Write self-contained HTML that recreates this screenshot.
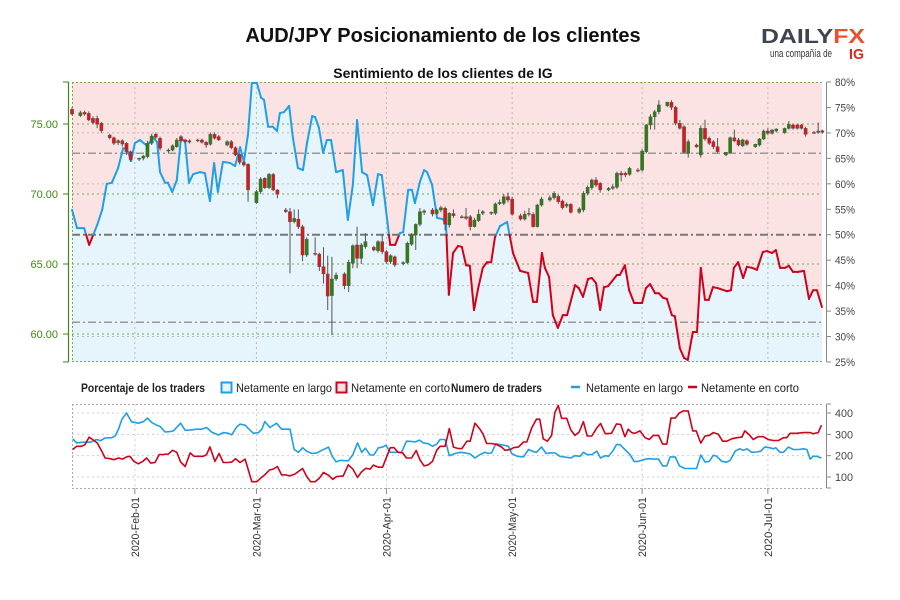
<!DOCTYPE html>
<html><head><meta charset="utf-8"><style>
body{margin:0;background:#fff;}
svg{display:block;font-family:"Liberation Sans",sans-serif;}
</style></head><body>
<svg id="chart" width="900" height="600" viewBox="0 0 900 600" xmlns="http://www.w3.org/2000/svg">
<rect width="900" height="600" fill="#fff"/>
<text x="443" y="42" text-anchor="middle" font-size="20" font-weight="bold" fill="#111">AUD/JPY Posicionamiento de los clientes</text>
<g>
<text x="761" y="43" font-size="20" font-weight="bold" fill="#3d4553" textLength="104" lengthAdjust="spacingAndGlyphs">DA<tspan fill="#3d4553">I</tspan>LY<tspan fill="#e8512a">FX</tspan></text>
<text x="770" y="57" font-size="11" fill="#333" textLength="62" lengthAdjust="spacingAndGlyphs">una compañía de</text>
<text x="849" y="59" font-size="15" font-weight="bold" fill="#e1261c" textLength="15" lengthAdjust="spacingAndGlyphs">IG</text>
</g>
<text x="443" y="78" text-anchor="middle" font-size="14" font-weight="bold" fill="#111">Sentimiento de los clientes de IG</text>
<g id="main"></g>
<g id="legend">
<text x="81" y="392" font-size="12" font-weight="bold" fill="#222" textLength="124" lengthAdjust="spacingAndGlyphs">Porcentaje de los traders</text>
<rect x="221.5" y="382.5" width="10" height="10" fill="#e6f4fc" stroke="#1ea0e6" stroke-width="2"/>
<text x="236" y="392" font-size="12" fill="#222" textLength="96" lengthAdjust="spacingAndGlyphs">Netamente en largo</text>
<rect x="336.5" y="382.5" width="10" height="10" fill="#fbe3e4" stroke="#d0021b" stroke-width="2"/>
<text x="351" y="392" font-size="12" fill="#222" textLength="99" lengthAdjust="spacingAndGlyphs">Netamente en corto</text>
<text x="451" y="392" font-size="12" font-weight="bold" fill="#222" textLength="91" lengthAdjust="spacingAndGlyphs">Numero de traders</text>
<line x1="571" y1="387" x2="580" y2="387" stroke="#1ea0e6" stroke-width="2.5"/>
<text x="586" y="392" font-size="12" fill="#222" textLength="97" lengthAdjust="spacingAndGlyphs">Netamente en largo</text>
<line x1="688" y1="387" x2="697" y2="387" stroke="#d0021b" stroke-width="2.5"/>
<text x="701" y="392" font-size="12" fill="#222" textLength="98" lengthAdjust="spacingAndGlyphs">Netamente en corto</text>
</g>
<g id="lower"></g>
</svg>
<script>
// ---------- data ----------
const startDate = "2020-01-17";
const monthTickDays = [15, 44, 75, 105, 136, 166];
const monthTickLabels = ["2020-Feb-01","2020-Mar-01","2020-Apr-01","2020-May-01","2020-Jun-01","2020-Jul-01"];
const priceTicks = [75, 70, 65, 60];
const priceTickLabels = ["75.00","70.00","65.00","60.00"];
const pctTicks = [80,75,70,65,60,55,50,45,40,35,30,25];
const pctGrid = [70,60,40,30];
const refLevels = [66, 50, 32.8];
const countTicks = [400,300,200,100];
// candles: [day, open, high, low, close]
const candles = [
[0,76.05,76.2,75.6,75.71],[2,75.60,75.95,75.5,75.81],[3,75.83,75.95,75.6,75.71],[4,75.76,75.9,75.2,75.29],
[5,75.40,75.55,75.0,75.10],[6,75.40,75.6,74.7,74.98],[7,75.05,75.15,74.35,74.52],[9,74.21,74.3,73.9,74.02],
[10,74.02,74.1,73.5,73.62],[11,73.67,73.9,73.5,73.81],[12,73.81,73.9,73.4,73.57],[13,73.62,73.7,72.8,73.02],
[14,73.02,73.1,72.3,72.43],[16,72.48,72.6,72.35,72.55],[17,72.55,72.8,72.4,72.71],[18,72.67,73.8,72.55,73.62],
[19,73.62,74.3,73.5,74.14],[20,74.26,74.4,73.95,74.05],[21,73.98,74.1,73.1,73.26],[23,73.07,73.25,72.95,73.14],
[24,73.14,73.55,73.05,73.45],[25,73.38,74.0,73.3,73.86],[26,74.10,74.2,73.7,73.79],[27,73.86,73.95,73.6,73.74],
[28,73.81,73.9,73.6,73.71],[30,73.79,73.95,73.7,73.86],[31,73.86,73.95,73.6,73.69],[32,73.69,73.8,73.3,73.50],
[33,73.55,74.4,73.45,74.26],[34,74.26,74.4,73.9,73.98],[35,74.10,74.2,73.8,73.86],[37,73.50,73.85,73.4,73.74],
[38,73.74,73.85,73.2,73.31],[39,73.31,73.4,72.7,72.79],[40,72.83,72.9,72.1,72.26],[41,72.26,72.35,71.95,72.07],
[42,72.12,72.2,69.45,70.29],[44,69.38,70.3,69.3,70.17],[45,70.17,71.2,70.0,71.07],[46,71.12,71.2,70.35,70.45],
[47,70.45,71.5,70.35,71.40],[48,71.40,71.5,70.2,70.29],[49,70.29,70.35,69.7,69.98],[51,68.86,69.0,68.65,68.74],
[52,68.74,69.0,64.33,68.02],[53,68.02,68.9,67.9,68.26],[54,68.21,68.9,67.5,67.67],[55,67.67,67.8,65.2,65.64],
[56,65.64,66.9,65.5,66.76],[58,65.76,66.9,65.6,65.71],[59,65.71,65.8,64.5,64.81],[60,64.81,66.2,63.6,64.29],
[61,64.29,65.6,61.71,62.71],[62,62.74,65.52,59.93,63.93],[63,63.93,64.4,63.8,64.21],[65,64.29,64.4,63.2,63.45],
[66,63.45,65.3,63.0,65.12],[67,65.05,66.4,64.7,66.31],[68,66.36,67.67,64.7,65.40],[69,65.40,66.5,65.0,66.36],
[70,66.24,67.2,66.1,66.60],[72,66.19,66.3,65.9,66.00],[73,65.95,66.7,65.8,66.60],[74,66.60,67.1,65.7,65.88],
[75,65.88,66.0,65.0,65.17],[76,65.17,65.7,65.0,65.60],[77,65.52,65.6,64.8,64.93],[79,65.02,65.2,64.9,65.10],
[80,65.10,66.6,65.0,66.48],[81,66.40,67.2,66.3,67.07],[82,67.07,67.9,66.0,67.83],[83,67.83,69.0,67.7,68.74],
[84,68.69,68.9,68.5,68.79],[86,68.86,69.0,68.4,68.57],[87,68.60,68.95,68.5,68.86],[88,68.86,69.15,68.7,69.02],
[89,68.98,69.1,67.4,67.83],[90,67.79,68.7,67.6,68.62],[91,68.60,68.9,68.3,68.45],[93,68.38,68.5,68.25,68.33],
[94,68.38,69.0,68.15,68.26],[95,68.38,68.5,67.4,67.67],[96,67.67,68.3,67.6,68.14],[97,68.10,68.9,68.0,68.55],
[98,68.62,68.85,68.5,68.74],[100,68.62,68.75,68.5,68.69],[101,68.62,69.4,68.5,69.29],[102,69.31,69.6,69.2,69.40],
[103,69.33,70.0,69.2,69.81],[104,69.81,70.1,69.4,69.57],[105,69.64,69.8,68.45,68.55],[107,68.45,68.6,68.1,68.21],
[108,68.21,68.8,68.1,68.55],[109,68.55,69.0,68.4,68.62],[110,68.55,68.7,67.6,67.67],[111,67.67,69.3,67.6,69.21],
[112,69.21,69.8,69.1,69.64],[114,69.57,69.9,69.45,69.74],[115,69.74,70.2,69.6,70.05],[116,69.83,69.95,69.3,69.45],
[117,69.50,69.6,68.9,69.02],[118,69.14,69.4,69.0,69.26],[119,69.26,69.35,68.6,68.69],[121,68.69,69.05,68.6,68.93],
[122,68.86,70.2,68.7,70.05],[123,70.05,70.6,69.9,70.48],[124,70.45,71.1,70.3,71.00],[125,71.00,71.2,70.5,70.64],
[126,70.76,70.85,70.1,70.29],[128,70.29,70.5,70.2,70.40],[129,70.40,70.7,70.3,70.52],[130,70.48,71.6,70.35,71.48],
[131,71.48,71.65,70.9,71.36],[132,71.48,71.6,71.2,71.36],[133,71.40,71.95,71.3,71.83],[135,71.71,71.85,71.55,71.64],
[136,71.71,73.2,71.6,73.07],[137,73.02,75.0,72.9,74.93],[138,74.93,75.7,74.6,75.52],[139,75.52,76.0,74.6,75.88],
[140,75.88,76.7,75.7,76.36],[142,76.31,76.6,76.2,76.55],[143,76.55,76.7,76.0,76.19],[144,76.19,76.3,74.9,75.05],
[145,75.05,75.3,74.6,74.69],[146,74.81,74.9,72.9,72.98],[147,72.90,73.9,72.6,73.74],[149,73.50,73.6,73.3,73.36],
[150,72.79,74.9,72.6,74.69],[151,74.69,75.3,73.8,73.93],[152,73.98,74.1,73.5,73.62],[153,73.74,73.85,73.2,73.38],
[154,73.38,74.0,72.95,73.02],[156,72.79,73.0,72.7,72.98],[157,72.95,74.1,72.9,74.02],[158,74.02,74.6,73.7,73.79],
[159,73.86,74.0,73.4,73.50],[160,73.45,73.95,73.35,73.86],[161,73.81,73.9,73.45,73.55],[163,73.38,73.6,73.3,73.55],
[164,73.50,74.0,73.4,73.93],[165,73.93,74.6,73.85,74.50],[166,74.50,74.7,74.2,74.33],[167,74.33,74.65,74.25,74.57],
[168,74.50,74.7,74.4,74.64],[170,74.38,74.75,74.3,74.69],[171,74.69,75.2,74.6,74.98],[172,74.93,75.0,74.6,74.69],
[173,74.93,75.0,74.6,74.69],[174,74.93,75.0,74.6,74.69],[175,74.69,74.8,74.1,74.26],[177,74.40,74.5,74.3,74.33],
[178,74.50,75.1,74.3,74.40],[179,74.52,74.6,74.3,74.40]
];
// sentiment (% net long)
const sentDays = [0,1.2,2.9,4.1,6.0,7.2,8.3,9.5,11.0,12.2,13.1,14.1,15.0,16.2,17.7,18.4,19.3,20.3,21.0,22.2,22.9,23.9,25.0,26.0,27.0,27.9,28.9,30.5,31.7,32.9,33.9,34.8,36.0,37.7,38.9,40.1,41.0,42.0,42.9,44.1,45.1,45.8,46.8,47.9,48.9,49.6,50.6,51.8,52.7,53.9,55.1,56.1,57.3,58.0,58.9,59.9,60.8,61.8,63.0,64.6,65.8,67.0,68.0,69.2,70.4,71.8,73.0,73.9,75.9,77.1,78.2,79.0,80.2,81.1,81.8,83.0,84.0,84.7,85.9,87.1,88.3,89.2,89.9,90.9,92.1,93.0,94.0,94.9,95.9,96.9,98.0,99.0,100.0,100.9,102.1,103.8,105.2,106.9,108.8,110.0,110.9,112.1,112.8,113.8,114.7,115.9,117.1,118.1,120.0,120.9,121.9,123.1,124.0,125.0,126.0,126.9,127.9,130.0,130.7,131.9,132.9,134.1,136.0,136.9,137.9,139.1,140.0,141.0,141.9,143.1,143.8,145.0,146.0,146.9,148.1,149.1,150.0,151.0,151.9,152.9,154.1,156.2,157.2,157.9,158.9,160.1,161.0,162.2,163.4,164.8,165.8,167.0,167.9,168.9,170.1,171.0,172.0,173.2,174.6,175.8,176.8,177.7,178.9];
const sentPct = [54.9,51.3,51.3,48.0,51.9,54.9,60.0,60.2,63.1,67.0,66.8,64.5,68.0,68.6,67.6,68.0,69.2,68.2,62.3,60.2,60.2,58.4,60.7,69.0,68.2,60.2,61.9,62.3,62.1,56.6,64.1,58.4,64.3,64.1,63.5,67.2,64.3,69.8,79.8,79.8,76.9,76.5,71.2,71.2,70.4,73.9,74.1,75.3,69.0,63.1,62.7,68.2,73.3,73.1,71.0,66.1,68.6,68.6,62.3,62.7,52.9,59.8,72.5,62.3,61.7,55.8,61.9,61.7,48.0,48.0,50.3,50.5,58.8,58.8,56.2,60.4,62.7,62.3,59.8,53.3,53.1,52.5,38.2,46.4,47.8,47.6,44.0,43.9,35.2,39.5,43.5,44.6,44.6,49.5,51.7,52.5,46.4,42.9,42.5,36.8,36.8,46.4,43.5,41.7,34.2,31.7,34.2,34.2,40.1,39.5,37.8,41.3,41.5,40.5,35.2,39.7,39.9,42.1,42.1,44.0,39.1,36.6,36.6,39.5,40.3,38.5,38.5,37.6,37.4,34.2,34.0,27.7,25.8,25.4,30.9,30.9,43.5,37.2,37.2,39.7,39.5,38.9,39.1,43.5,44.6,41.5,43.7,43.5,43.1,46.6,46.8,46.4,47.0,43.5,43.5,43.9,42.7,42.7,42.9,37.4,39.1,39.1,35.8];
// trader counts
const longDays = [0.2,1.1,2.7,4.3,5.9,6.8,7.9,9.5,10.3,11.1,11.9,13.0,14.2,15.8,17.0,18.0,19.0,20.2,21.0,22.2,23.4,24.2,25.9,27.0,28.5,29.7,30.9,32.1,33.3,34.9,36.1,37.3,38.1,39.3,40.1,41.3,42.5,43.3,44.5,45.3,46.0,47.2,48.8,50.0,52.0,53.0,54.0,55.0,56.0,57.2,58.4,59.6,61.2,62.0,63.0,64.0,65.9,67.0,68.1,69.1,70.0,71.1,72.0,73.1,74.1,74.9,75.9,77.5,78.6,79.8,81.0,81.8,82.9,83.8,85.0,86.0,87.0,87.8,89.0,90.0,91.4,92.6,93.8,95.0,96.1,97.3,98.5,99.3,100.1,101.1,102.1,103.3,104.1,104.9,106.2,107.7,108.9,110.1,110.8,112.0,113.1,114.0,115.2,116.4,117.4,119.0,120.0,121.2,122.0,122.9,124.0,125.2,126.1,127.2,128.0,129.1,129.9,130.7,131.9,133.1,134.1,135.1,136.3,137.5,138.7,139.9,140.9,141.9,142.7,143.9,144.9,146.2,147.8,149.0,150.0,151.0,152.0,153.0,153.8,155.0,156.2,157.0,158.2,159.2,160.2,161.0,162.1,163.3,164.3,165.3,166.5,167.3,167.9,168.9,169.7,170.9,172.1,173.3,174.5,175.3,176.1,176.8,177.6,178.8];
const longCount = [279,260,263,263,276,270,283,284,292,324,371,400,359,352,359,376,356,343,337,311,313,316,352,319,321,324,324,332,311,297,308,305,298,335,348,343,319,305,308,324,360,332,352,324,324,229,216,237,221,210,213,225,240,200,171,178,176,205,260,216,235,203,203,237,240,249,216,216,216,268,267,264,273,260,256,244,254,276,276,200,210,216,213,208,189,205,216,210,213,256,252,248,244,210,197,194,229,219,216,241,210,213,213,197,194,189,200,197,216,205,205,221,189,200,197,225,252,252,229,205,173,173,181,186,184,184,152,152,194,194,152,140,140,140,203,171,173,202,197,173,170,178,221,232,225,232,216,217,221,241,237,232,237,216,216,240,229,229,232,229,184,197,197,189];
const shortDays = [0.2,1.1,2.3,3.1,4.1,5.1,6.0,7.1,7.9,9.1,10.0,11.1,12.1,13.0,13.8,14.8,15.8,16.9,17.8,18.8,19.8,20.8,21.8,23.0,24.0,25.0,25.9,27.0,28.2,29.1,30.5,31.3,32.1,32.9,34.1,35.1,36.1,37.1,38.1,39.0,40.1,41.3,42.9,44.1,45.2,46.0,47.1,48.0,49.0,50.0,51.0,52.0,53.2,55.0,56.0,56.9,58.0,59.0,60.0,61.2,62.2,63.1,64.7,65.9,67.0,68.1,69.1,70.1,71.1,71.9,73.1,74.1,75.9,76.8,77.8,78.9,79.8,81.0,82.1,83.0,84.0,85.0,86.0,87.0,87.8,89.0,90.0,91.0,92.2,93.0,94.2,95.0,96.1,97.2,98.1,98.9,100.1,101.3,102.5,103.3,104.5,105.4,106.5,107.7,108.5,109.7,110.8,111.6,112.4,113.4,114.4,115.2,116.0,116.8,118.0,119.0,120.0,121.0,122.0,122.9,124.0,125.2,126.1,127.2,128.7,129.9,130.9,131.9,132.7,133.5,134.3,135.5,136.7,137.7,138.7,139.9,140.9,141.9,142.9,143.9,144.9,145.8,147.0,148.1,148.9,150.0,151.0,152.0,153.0,154.2,155.2,156.2,157.4,158.6,159.8,160.5,161.7,162.5,163.7,164.9,166.1,167.3,168.5,169.7,170.5,171.3,172.9,174.5,176.1,176.8,178.0,178.8];
const shortCount = [229,244,244,252,287,273,260,221,189,186,181,189,184,194,197,173,162,173,189,165,168,205,206,208,225,216,171,149,213,197,197,197,205,241,173,210,168,168,170,186,168,184,78,78,98,110,133,137,149,110,110,105,114,140,102,78,78,94,121,108,89,102,105,157,137,98,125,141,137,156,146,146,237,238,216,213,189,189,224,181,152,157,173,225,244,244,327,240,233,233,268,268,352,327,300,257,257,252,240,225,229,238,240,264,264,332,371,371,279,268,295,403,435,375,375,321,295,311,359,292,292,330,351,303,305,349,346,289,324,308,305,316,284,276,295,295,254,254,376,376,400,410,410,316,316,259,292,295,308,300,268,268,279,284,287,316,295,276,289,289,276,271,271,284,284,305,305,308,308,303,308,343];

// ---------- scales ----------
const NS = "http://www.w3.org/2000/svg";
const X0 = 72, X1 = 822, DAYPX = 4.192;
const xDay = d => X0 + d * DAYPX;
const yPrice = p => 124 + (75 - p) * 14;
const yPct = v => 82 + (80 - v) * (280 / 55);
const yCount = v => 413 + (400 - v) * (64 / 300);
function mk(tag, attrs, parent) {
  const el = document.createElementNS(NS, tag);
  for (const k in attrs) el.setAttribute(k, attrs[k]);
  parent.appendChild(el);
  return el;
}
const main = document.getElementById("main");
const lower = document.getElementById("lower");

// ---------- main panel ----------
const bgPink = mk("rect", {x: X0, y: 82, width: X1 - X0, height: 280, fill: "#fbe3e4"}, main);


let areaD = "M" + xDay(sentDays[0]) + " 362";
sentDays.forEach((d, i) => { areaD += " L" + xDay(d).toFixed(1) + " " + yPct(sentPct[i]).toFixed(1); });
areaD += " L" + xDay(sentDays[sentDays.length - 1]).toFixed(1) + " 362 Z";
const area = mk("path", {d: areaD, fill: "#e6f4fc"}, main);



pctGrid.forEach(v => {
  const g = mk("line", {x1: X0, x2: X1, y1: yPct(v), y2: yPct(v), stroke: "#bbb", "stroke-width": 1, "stroke-dasharray": "2,3"}, main);
  
  
});
priceTicks.forEach(p => {
  const g = mk("line", {x1: X0, x2: X1, y1: yPrice(p), y2: yPrice(p), stroke: "#7aa84a", "stroke-width": 1, "stroke-dasharray": "2,3"}, main);
  
  
});
monthTickDays.forEach(d => {
  const g = mk("line", {x1: xDay(d), x2: xDay(d), y1: 82, y2: 362, stroke: "#bbb", "stroke-width": 1, "stroke-dasharray": "2,3"}, main);
  
  
});
refLevels.forEach((v, i) => {
  const g = mk("line", {x1: X0, x2: X1, y1: yPct(v), y2: yPct(v), stroke: i === 1 ? "#777" : "#999", "stroke-width": i === 1 ? 2 : 1.5, "stroke-dasharray": "8,3,2,3"}, main);
  
  
});
const topB = mk("line", {x1: X0, x2: X1, y1: 82.5, y2: 82.5, stroke: "#7aa84a", "stroke-dasharray": "2,2"}, main);


const botB = mk("line", {x1: X0, x2: X1, y1: 361.5, y2: 361.5, stroke: "#7aa84a", "stroke-dasharray": "2,2"}, main);


const leftB = mk("line", {x1: 72.5, x2: 72.5, y1: 82, y2: 362, stroke: "#7aa84a", "stroke-dasharray": "2,2"}, main);



for (let i = 0; i < sentDays.length - 1; i++) {
  const a = sentPct[i], b = sentPct[i + 1];
  const xa = xDay(sentDays[i]), xb = xDay(sentDays[i + 1]);
  const pieces = [];
  if ((a - 50) * (b - 50) < 0) {
    const t = (50 - a) / (b - a);
    const xm = xa + t * (xb - xa);
    pieces.push([xa, a, xm, 50, a > 50]);
    pieces.push([xm, 50, xb, b, b > 50]);
  } else pieces.push([xa, a, xb, b, (a + b) / 2 >= 50]);
  pieces.forEach(p => {
    const l = mk("line", {x1: p[0], y1: yPct(p[1]), x2: p[2], y2: yPct(p[3]), stroke: p[4] ? "#1ea0e6" : "#d0021b", "stroke-width": 2, "stroke-linecap": "round"}, main);
    
    
  });
}

candles.forEach(c => {
  const [d, o, h, l, cl] = c;
  const x = xDay(d);
  const up = cl >= o;
  const w = mk("line", {x1: x, x2: x, y1: yPrice(h), y2: yPrice(l), stroke: "#555", "stroke-width": 1}, main);
  
  
  const top = yPrice(Math.max(o, cl)), bot = yPrice(Math.min(o, cl));
  const b = mk("rect", {x: x - 1.6, y: top, width: 3.2, height: Math.max(1, bot - top), fill: up ? "#2e7d14" : "#d7191c", stroke: "#555", "stroke-width": 0.4}, main);
  
  
});

const la = mk("line", {x1: 68.5, x2: 68.5, y1: 82, y2: 362, stroke: "#3d8a10", "stroke-width": 1.2}, main);


[82, 362].forEach(y => {
  const t = mk("line", {x1: 63, x2: 68.5, y1: y, y2: y, stroke: "#3d8a10"}, main);
  
  
});
priceTicks.forEach((p, i) => {
  const t = mk("line", {x1: 63, x2: 68.5, y1: yPrice(p), y2: yPrice(p), stroke: "#3d8a10"}, main);
  
  
  const tx = mk("text", {x: 58, y: yPrice(p) + 4, "text-anchor": "end", "font-size": 11, fill: "#3d8a10"}, main);
  tx.textContent = priceTickLabels[i];
  
  
});
const ra = mk("line", {x1: 826.5, x2: 826.5, y1: 82, y2: 362, stroke: "#888", "stroke-width": 1}, main);


pctTicks.forEach(v => {
  const t = mk("line", {x1: 826.5, x2: 831, y1: yPct(v), y2: yPct(v), stroke: "#888"}, main);
  
  
  const tx = mk("text", {x: 835, y: yPct(v) + 4, "font-size": 11, fill: "#444", textLength: 20, lengthAdjust: "spacingAndGlyphs"}, main);
  tx.textContent = v + "%";
  
  
});

// ---------- lower panel ----------
countTicks.forEach(v => {
  const g = mk("line", {x1: X0, x2: X1, y1: yCount(v), y2: yCount(v), stroke: "#ccc", "stroke-dasharray": "2,3"}, lower);
  
  
});
monthTickDays.forEach((d, i) => {
  const g = mk("line", {x1: xDay(d), x2: xDay(d), y1: 404, y2: 488, stroke: "#ccc", "stroke-dasharray": "2,3"}, lower);
  
  
  const t = mk("line", {x1: xDay(d), x2: xDay(d), y1: 488, y2: 494, stroke: "#888"}, lower);
  
  
  const tx = mk("text", {x: 0, y: 0, "text-anchor": "end", "font-size": 11, fill: "#333", transform: "translate(" + (xDay(d) + 4) + ",497) rotate(-90)", textLength: 60, lengthAdjust: "spacingAndGlyphs"}, lower);
  tx.textContent = monthTickLabels[i];
  
  
});
const lt = mk("line", {x1: X0, x2: X1, y1: 404.5, y2: 404.5, stroke: "#aaa", "stroke-dasharray": "2,2"}, lower);


const lb = mk("line", {x1: X0, x2: X1, y1: 488.5, y2: 488.5, stroke: "#aaa", "stroke-dasharray": "2,2"}, lower);


const ll = mk("line", {x1: 72.5, x2: 72.5, y1: 404, y2: 488, stroke: "#aaa", "stroke-dasharray": "2,2"}, lower);


function series(days, vals, color, name) {
  let d = "";
  days.forEach((dd, i) => { d += (i ? " L" : "M") + xDay(dd).toFixed(1) + " " + yCount(vals[i]).toFixed(1); });
  const p = mk("path", {d: d, fill: "none", stroke: color, "stroke-width": 1.6, "stroke-linejoin": "round"}, lower);
  
  
}
series(longDays, longCount, "#1ea0e6", "long-count-line");
series(shortDays, shortCount, "#d0021b", "short-count-line");
const rb = mk("line", {x1: 826.5, x2: 826.5, y1: 404, y2: 488, stroke: "#888"}, lower);


countTicks.forEach(v => {
  const t = mk("line", {x1: 826.5, x2: 831, y1: yCount(v), y2: yCount(v), stroke: "#888"}, lower);
  
  
  const tx = mk("text", {x: 835, y: yCount(v) + 4, "font-size": 11, fill: "#444", textLength: 18, lengthAdjust: "spacingAndGlyphs"}, lower);
  tx.textContent = v;
  
  
});
[404, 488].forEach(y => {
  const t = mk("line", {x1: 826.5, x2: 831, y1: y, y2: y, stroke: "#888"}, lower);
  
  
});
</script>
</body></html>
